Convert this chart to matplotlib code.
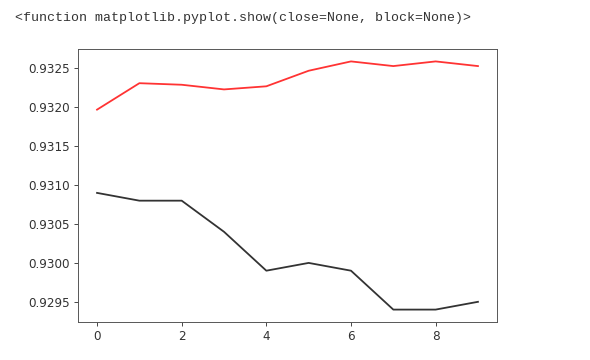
import matplotlib
matplotlib.use('Agg')
import matplotlib.pyplot as plt

# valeurs
epochs = list(range(10))
red_scores = [0.93197, 0.93231, 0.93229, 0.93223, 0.93227,
              0.93247, 0.93259, 0.93253, 0.93259, 0.93253]
black_scores = [0.9309, 0.9308, 0.9308, 0.9304, 0.9299,
                0.9300, 0.9299, 0.9294, 0.9294, 0.9295]
header = '<function matplotlib.pyplot.show(close=None, block=None)>'

W, H = 590, 360
dpi = 86.4
fig = plt.figure(figsize=(W / dpi, H / dpi), dpi=dpi)
ax = fig.add_axes([78 / W, (H - 322) / H, 419 / W, 273 / H])

ax.plot(epochs, red_scores, color='red', alpha=0.8)
ax.plot(epochs, black_scores, color='black', alpha=0.8)

ax.tick_params(colors='#444', labelcolor='#333')
for sp in ax.spines.values():
    sp.set_color('#555')

fig.text(15 / W, 1 - 17.5 / H, header, family='Liberation Mono',
         fontsize=11, color='#333', va='center', ha='left')

fig.savefig('out.png', dpi=dpi)
